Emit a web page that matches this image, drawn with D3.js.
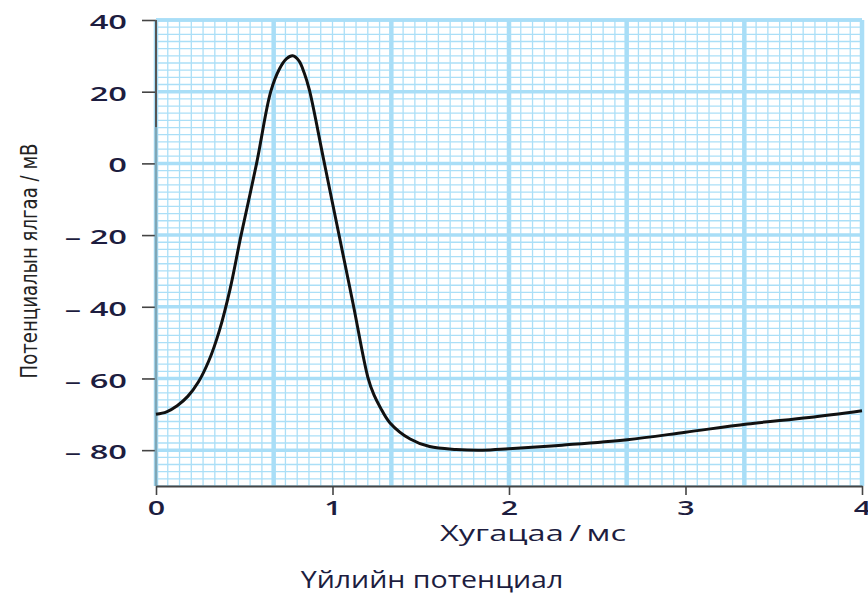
<!DOCTYPE html>
<html>
<head>
<meta charset="utf-8">
<script src="https://d3js.org/d3.v7.min.js"></script>
<style>
  body { margin: 0; background: #fff; }
  text { fill: #1d1d3f; }
</style>
</head>
<body>
<div id="chart"></div>
<script>
var width = 868,
    height = 594;

// curve (ms, mV)
var timeMs = [0, 0.06, 0.12, 0.18, 0.24, 0.3, 0.36, 0.42, 0.48, 0.57, 0.65, 0.70, 0.74, 0.774, 0.81, 0.84, 0.869, 0.95, 1.035, 1.118, 1.2, 1.235, 1.27, 1.326, 1.44, 1.55, 1.7, 1.85, 2.0, 2.3, 2.67, 3.0, 3.35, 3.7, 4.0];
var voltage = [-70, -69.3, -67.6, -65, -61, -55, -46.5, -35, -20.5, 0, 20, 26.4, 29.2, 30, 28.6, 25.2, 20.5, 1, -19.5, -39.5, -59.6, -64.6, -68, -72.4, -76.9, -79, -79.8, -80, -79.6, -78.6, -77.1, -75, -72.7, -70.9, -69];

var xTicks = [0, 1, 2, 3, 4];
var yTicks = [40, 20, 0, -20, -40, -60, -80];
var xTickLabels = ['0', '1', '2', '3', '4'];
var yTickLabels = ['40', '20', '0', '\u2013 20', '\u2013 40', '\u2013 60', '\u2013 80'];

var xTitle = 'Хугацаа\u2009/\u2009мс',
    yTitle = 'Потенциалын ялгаа / мВ',
    chartTitle = 'Үйлийн потенциал';

var plot = {left: 156, right: 862, top: 20, bottom: 486};

var x = d3.scaleLinear().domain([0, 4]).range([plot.left, plot.right]);
var y = d3.scaleLinear().domain([-90, 40]).range([plot.bottom, plot.top]);

var svg = d3.select('#chart').append('svg')
    .attr('width', width)
    .attr('height', height);

// the source picture is stretched sideways, so widen the glyphs to match
function stretch(sel, k) {
    sel.each(function () {
        var w = this.getComputedTextLength();
        d3.select(this)
            .attr('textLength', w * k)
            .attr('lengthAdjust', 'spacingAndGlyphs');
    });
}

var grid = svg.append('g');

// minor grid: 1/15 ms and 2 mV
var minorX = d3.range(0, 61).map(function (i) { return i / 15; });
var minorY = d3.range(-45, 21).map(function (i) { return i * 2; });
// major grid: every 2/3 ms and 20 mV
var majorX = d3.range(0, 7).map(function (i) { return i * 2 / 3; });
var majorY = d3.range(-4, 3).map(function (i) { return i * 20; });

grid.selectAll('.minor-x')
    .data(minorX)
    .enter().append('line')
    .attr('x1', function (d) { return x(d); })
    .attr('x2', function (d) { return x(d); })
    .attr('y1', plot.top)
    .attr('y2', plot.bottom)
    .attr('stroke', '#abdff7')
    .attr('stroke-width', 1.3);

grid.selectAll('.minor-y')
    .data(minorY)
    .enter().append('line')
    .attr('x1', plot.left)
    .attr('x2', plot.right)
    .attr('y1', function (d) { return y(d); })
    .attr('y2', function (d) { return y(d); })
    .attr('stroke', '#abdff7')
    .attr('stroke-width', 1.3);

grid.selectAll('.major-x')
    .data(majorX)
    .enter().append('line')
    .attr('x1', function (d) { return x(d); })
    .attr('x2', function (d) { return x(d); })
    .attr('y1', plot.top)
    .attr('y2', plot.bottom)
    .attr('stroke', '#a9def7')
    .attr('stroke-width', 4.5);

grid.selectAll('.major-y')
    .data(majorY.concat([40]))
    .enter().append('line')
    .attr('x1', plot.left)
    .attr('x2', plot.right)
    .attr('y1', function (d) { return y(d); })
    .attr('y2', function (d) { return y(d); })
    .attr('stroke', '#a9def7')
    .attr('stroke-width', 3.5);

// axes
var yAxis = d3.axisLeft(y)
    .tickValues(yTicks)
    .tickSize(14)
    .tickFormat(function (d, i) { return yTickLabels[i]; });

var gy = svg.append('g')
    .attr('transform', 'translate(' + plot.left + ',0)')
    .call(yAxis);
gy.select('.domain').remove();
gy.selectAll('line').attr('stroke', '#444').attr('stroke-width', 1.6);
gy.selectAll('text')
    .attr('x', -29)
    .attr('dy', '0.45em')
    .style('font-family', '"Open Sans", sans-serif')
    .style('font-size', '19px')
    .style('font-weight', 600)
    .style('fill', '#1d1d3f')
    .call(stretch, 1.72);

// left spine: dark at the top, blue-grey lower down
svg.append('line')
    .attr('x1', plot.left).attr('x2', plot.left)
    .attr('y1', plot.top).attr('y2', y(10))
    .attr('stroke', '#555').attr('stroke-width', 2);
svg.append('line')
    .attr('x1', plot.left).attr('x2', plot.left)
    .attr('y1', y(10)).attr('y2', plot.bottom)
    .attr('stroke', '#7fa6b6').attr('stroke-width', 2.5);

var xAxis = d3.axisBottom(x)
    .tickValues(xTicks)
    .tickSize(9)
    .tickSizeOuter(0)
    .tickFormat(function (d, i) { return xTickLabels[i]; });

var gx = svg.append('g')
    .attr('transform', 'translate(0,' + plot.bottom + ')')
    .call(xAxis);
gx.select('.domain').attr('stroke', '#444').attr('stroke-width', 2);
gx.selectAll('line').attr('stroke', '#444').attr('stroke-width', 1.6);
gx.selectAll('text')
    .attr('y', 16)
    .attr('dy', '0.71em')
    .style('font-family', '"Open Sans", sans-serif')
    .style('font-size', '19px')
    .style('font-weight', 600)
    .style('fill', '#1d1d3f')
    .call(stretch, 1.6);

// the trace
var line = d3.line()
    .x(function (d) { return x(d[0]); })
    .y(function (d) { return y(d[1]); })
    .curve(d3.curveCatmullRom.alpha(0.5));

svg.append('path')
    .datum(d3.zip(timeMs, voltage))
    .attr('d', line)
    .attr('fill', 'none')
    .attr('stroke', '#111')
    .attr('stroke-width', 3);

// titles
svg.append('text')
    .attr('x', 533)
    .attr('y', 541)
    .attr('text-anchor', 'middle')
    .style('font-family', '"Open Sans", sans-serif')
    .style('font-size', '21px')
    .style('font-weight', 500)
    .text(xTitle)
    .call(stretch, 1.55);

svg.append('text')
    .attr('transform', 'translate(37,261) rotate(-90)')
    .attr('text-anchor', 'middle')
    .attr('textLength', 235)
    .attr('lengthAdjust', 'spacingAndGlyphs')
    .style('font-family', '"Liberation Sans Narrow", "DejaVu Sans Condensed", sans-serif')
    .style('font-size', '23px')
    .style('fill', '#222')
    .text(yTitle);

svg.append('text')
    .attr('x', 432)
    .attr('y', 588)
    .attr('text-anchor', 'middle')
    .style('font-family', '"Open Sans", sans-serif')
    .style('font-size', '23px')
    .style('font-weight', 500)
    .text(chartTitle)
    .call(stretch, 1.24);
</script>
</body>
</html>
